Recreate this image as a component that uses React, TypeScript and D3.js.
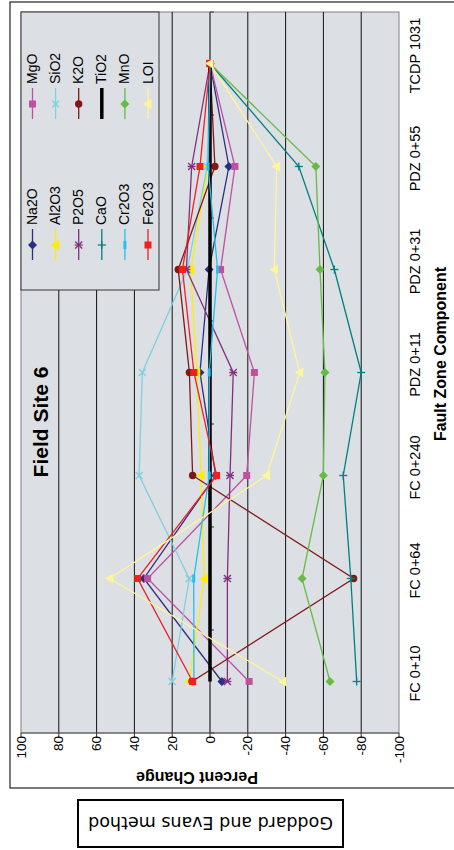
import React from "react";
import * as d3 from "d3";

const categories = ["FC 0+10", "FC 0+64", "FC 0+240", "PDZ 0+11", "PDZ 0+31", "PDZ 0+55", "TCDP 1031"];
const yTicks = [100, 80, 60, 40, 20, 0, -20, -40, -60, -80, -100];

const Na2O = [-6.3, 35, -3, 5.3, 0.5, -10, 0];
const MgO = [-20.7, 33, -19.4, -23.5, -5.6, -13.2, 0];
const Al2O3 = [11, 3, 4.7, 7, 10.2, 1, 0];
const SiO2 = [20, 11, 37.5, 35.8, 12, 1.5, 0];
const P2O5 = [-9.2, -9.2, -10.6, -12.3, 12.5, 9.7, 0];
const K2O = [9.5, -76, 9.2, 10.9, 16.8, -2.6, 0];
const CaO = [-77.6, -74.5, -70.5, -80, -65.8, -47, 0];
const TiO2 = [0, 0, 0, 0, 0, 0, 0];
const Cr2O3 = [8.5, 8.6, 0.4, 0.4, -4, 1, 0];
const MnO = [-63.5, -48.7, -60, -60.8, -58.2, -56, 0];
const Fe2O3 = [9.2, 38.3, -3.5, 8.5, 14.6, 5.3, 0];
const LOI = [-38.6, 53, -30, -47.5, -34, -35.3, 0];

type S = { name: string; values: number[]; color: string; marker: string; width?: number };
const series: S[] = [
  { name: "Na2O", values: Na2O, color: "#2e2e80", marker: "diamond" },
  { name: "MgO", values: MgO, color: "#c050a0", marker: "square" },
  { name: "Al2O3", values: Al2O3, color: "#ffee00", marker: "triangle" },
  { name: "SiO2", values: SiO2, color: "#7fd0e0", marker: "x" },
  { name: "P2O5", values: P2O5, color: "#80307f", marker: "star" },
  { name: "K2O", values: K2O, color: "#801818", marker: "circle" },
  { name: "CaO", values: CaO, color: "#008080", marker: "plus" },
  { name: "TiO2", values: TiO2, color: "#000000", marker: "none", width: 3.5 },
  { name: "Cr2O3", values: Cr2O3, color: "#22c0f0", marker: "bar" },
  { name: "MnO", values: MnO, color: "#66bb44", marker: "diamond" },
  { name: "Fe2O3", values: Fe2O3, color: "#ee2020", marker: "square" },
  { name: "LOI", values: LOI, color: "#fff59a", marker: "triangle" },
];

function Marker({ type, cx, cy, color }: { type: string; cx: number; cy: number; color: string }) {
  switch (type) {
    case "diamond":
      return <polygon points={`${cx},${cy - 4.5} ${cx + 4.5},${cy} ${cx},${cy + 4.5} ${cx - 4.5},${cy}`} fill={color} />;
    case "square":
      return <rect x={cx - 3.5} y={cy - 3.5} width={7} height={7} fill={color} />;
    case "triangle":
      return <polygon points={`${cx - 5},${cy} ${cx + 3.5},${cy - 5} ${cx + 3.5},${cy + 5}`} fill={color} />;
    case "x":
      return (
        <g stroke={color} strokeWidth={1.3}>
          <line x1={cx - 3.5} y1={cy - 3.5} x2={cx + 3.5} y2={cy + 3.5} />
          <line x1={cx - 3.5} y1={cy + 3.5} x2={cx + 3.5} y2={cy - 3.5} />
        </g>
      );
    case "star":
      return (
        <g stroke={color} strokeWidth={1.3}>
          <line x1={cx - 3.5} y1={cy - 3.5} x2={cx + 3.5} y2={cy + 3.5} />
          <line x1={cx - 3.5} y1={cy + 3.5} x2={cx + 3.5} y2={cy - 3.5} />
          <line x1={cx - 4} y1={cy} x2={cx + 4} y2={cy} />
        </g>
      );
    case "circle":
      return <circle cx={cx} cy={cy} r={3.7} fill={color} />;
    case "plus":
      return (
        <g stroke={color} strokeWidth={1.3}>
          <line x1={cx - 4} y1={cy} x2={cx + 4} y2={cy} />
          <line x1={cx} y1={cy - 4} x2={cx} y2={cy + 4} />
        </g>
      );
    case "bar":
      return <rect x={cx - 1.5} y={cy - 4} width={3} height={8} fill={color} />;
    default:
      return null;
  }
}

export default function App() {
  const left = 21, right = 399, top = 12, bottom = 733;
  const x = d3.scaleLinear().domain([100, -100]).range([left, right]);
  const y = d3.scaleBand().domain(categories).range([bottom, top]);
  const bw = y.bandwidth();
  const cy = (c: string) => (y(c) as number) + bw / 2;
  const line = d3
    .line<[string, number]>()
    .x((d) => x(d[1]))
    .y((d) => cy(d[0]));

  const boundaries = d3.range(categories.length + 1).map((i) => top + i * bw);
  const legendX = d3.range(6).map((i) => 32.5 + i * 23.1);
  const font = "'Liberation Sans', Arial, sans-serif";

  return (
    <svg width={454} height={850} style={{ position: "absolute", left: 0, top: 0, background: "#fff" }}>
      {/* outer frame */}
      <rect x={10} y={2} width={460} height={786} fill="#fff" stroke="#222" strokeWidth={1.2} />
      {/* plot area */}
      <rect x={left} y={top} width={right - left} height={bottom - top} fill="#dcdfe4" stroke="#808080" strokeWidth={1} />
      {/* gridlines */}
      {yTicks
        .filter((v) => v !== 100 && v !== -100)
        .map((v) => (
          <line key={"g" + v} x1={x(v)} x2={x(v)} y1={top} y2={bottom} stroke="#111" strokeWidth={1} />
        ))}
      {/* category axis at 0 */}
      <line x1={x(0)} x2={x(0)} y1={top} y2={bottom} stroke="#666" strokeWidth={1} />
      {boundaries.map((b, i) => (
        <line key={"cb" + i} x1={x(0)} x2={x(0) + 4} y1={b} y2={b} stroke="#333" strokeWidth={1} />
      ))}
      {/* value axis */}
      <line x1={left} x2={right} y1={bottom} y2={bottom} stroke="#555" strokeWidth={1} />
      {yTicks.map((v) => (
        <line key={"t" + v} x1={x(v)} x2={x(v)} y1={bottom} y2={bottom + 5} stroke="#333" strokeWidth={1} />
      ))}
      {yTicks.map((v) => (
        <text
          key={"tl" + v}
          transform={`translate(${x(v)},${bottom + 3}) rotate(-90)`}
          textAnchor="end"
          dominantBaseline="central"
          fontFamily={font}
          fontSize={13.5}
          fill="#000"
        >
          {String(v)}
        </text>
      ))}
      {/* category labels */}
      {categories.map((c) => (
        <text
          key={"cl" + c}
          transform={`translate(415,${cy(c) - 8}) rotate(-90)`}
          textAnchor="middle"
          dominantBaseline="central"
          fontFamily={font}
          fontSize={14.5}
          fill="#000"
        >
          {c}
        </text>
      ))}
      <text
        transform={`translate(440,354) rotate(-90)`}
        textAnchor="middle"
        dominantBaseline="central"
        fontFamily={font}
        fontWeight="bold"
        fontSize={16}
      >
        Fault Zone Component
      </text>
      <text
        transform={`translate(197,777) rotate(180)`}
        textAnchor="middle"
        dominantBaseline="central"
        fontFamily={font}
        fontWeight="bold"
        fontSize={16}
      >
        Percent Change
      </text>
      <text
        transform={`translate(40,422) rotate(-90)`}
        textAnchor="middle"
        dominantBaseline="central"
        fontFamily={font}
        fontWeight="bold"
        fontSize={21}
      >
        Field Site 6
      </text>

      {/* series */}
      {series.map((s) => {
        const pts: [string, number][] = categories.map((c, i) => [c, s.values[i]]);
        return (
          <g key={s.name}>
            <path d={line(pts) as string} fill="none" stroke={s.color} strokeWidth={s.width ?? 1.3} />
            {pts.map((p, i) => (
              <Marker key={i} type={s.marker} cx={x(p[1])} cy={cy(p[0])} color={s.color} />
            ))}
          </g>
        );
      })}

      {/* legend */}
      <rect x={left} y={top} width={138} height={278} fill="#dcdfe4" stroke="#333" strokeWidth={1} />
      {series.map((s, i) => {
        const col = Math.floor(i / 2);
        const row = i % 2;
        const mx = legendX[col];
        const my = row === 0 ? 245 : 104;
        const ty = row === 0 ? 225 : 84;
        return (
          <g key={"lg" + s.name}>
            <line x1={mx} x2={mx} y1={my - 16} y2={my + 15} stroke={s.color} strokeWidth={s.width ?? 1.3} />
            <Marker type={s.marker} cx={mx} cy={my} color={s.color} />
            <text
              transform={`translate(${mx + 4.5},${ty}) rotate(-90)`}
              textAnchor="start"
              fontFamily={font}
              fontSize={14}
              fill="#000"
            >
              {s.name}
            </text>
          </g>
        );
      })}

      {/* method box */}
      <rect x={78} y={800} width={265} height={47} fill="#fff" stroke="#000" strokeWidth={2} />
      <text
        transform={`translate(210.5,823) rotate(180)`}
        textAnchor="middle"
        dominantBaseline="central"
        fontFamily="'DejaVu Sans', Verdana, sans-serif"
        fontSize={17.5}
      >
        Goddard and Evans method
      </text>
    </svg>
  );
}
